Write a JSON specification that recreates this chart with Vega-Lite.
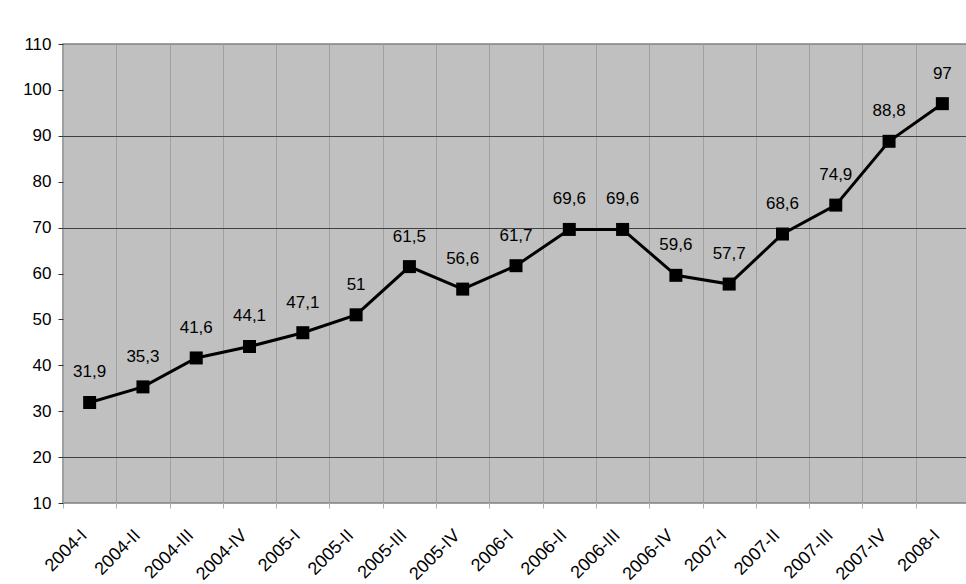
{
  "$schema": "https://vega.github.io/schema/vega-lite/v6.json",
  "width": 906,
  "height": 459,
  "autosize": {"type": "none"},
  "padding": {"left": 63, "top": 44, "right": 0, "bottom": 81},
  "background": "white",
  "config": {
    "font": "Liberation Sans",
    "locale": {"number": {"decimal": ",", "thousands": " ", "grouping": [3], "currency": ["", ""]}},
    "view": {"fill": "#c0c0c0", "stroke": "#808080", "strokeWidth": 1.5}
  },
  "data": {
    "values": [
      {"q": "2004-I", "v": 31.9},
      {"q": "2004-II", "v": 35.3},
      {"q": "2004-III", "v": 41.6},
      {"q": "2004-IV", "v": 44.1},
      {"q": "2005-I", "v": 47.1},
      {"q": "2005-II", "v": 51},
      {"q": "2005-III", "v": 61.5},
      {"q": "2005-IV", "v": 56.6},
      {"q": "2006-I", "v": 61.7},
      {"q": "2006-II", "v": 69.6},
      {"q": "2006-III", "v": 69.6},
      {"q": "2006-IV", "v": 59.6},
      {"q": "2007-I", "v": 57.7},
      {"q": "2007-II", "v": 68.6},
      {"q": "2007-III", "v": 74.9},
      {"q": "2007-IV", "v": 88.8},
      {"q": "2008-I", "v": 97}
    ]
  },
  "encoding": {
    "x": {
      "field": "q", "type": "nominal", "sort": null, "bandPosition": 0.5,
      "scale": {"type": "band", "paddingInner": 0, "paddingOuter": 0},
      "axis": {
        "title": null, "tickBand": "extent", "grid": true, "gridColor": "#a0a0a0", "gridWidth": 1,
        "domain": false, "tickColor": "#b0b0b0", "tickSize": 5,
        "labelAngle": -45, "labelAlign": "right", "labelBaseline": "top", "labelPadding": 18, "labelOffset": -12,
        "labelOverlap": false, "labelBound": false, "labelFlush": false,
        "labelFontSize": 18, "labelColor": "#000000", "labelFont": "Liberation Sans"
      }
    },
    "y": {
      "field": "v", "type": "quantitative",
      "scale": {"domain": [10, 110], "nice": false, "zero": false},
      "axis": {
        "title": null, "values": [10, 20, 30, 40, 50, 60, 70, 80, 90, 100, 110],
        "grid": true, "gridWidth": 1,
        "gridColor": {"condition": {"test": "datum.value == 20 || datum.value == 70 || datum.value == 90", "value": "#404040"}, "value": "transparent"},
        "domain": false, "tickColor": "#333333", "tickSize": 5, "labelPadding": 7,
        "labelOverlap": false, "labelFlush": false,
        "labelFontSize": 17, "labelColor": "#000000", "labelFont": "Liberation Sans"
      }
    }
  },
  "layer": [
    {
      "mark": {"type": "line", "color": "#000000", "strokeWidth": 3}
    },
    {
      "mark": {"type": "point", "shape": "square", "filled": true, "color": "#000000", "size": 169, "opacity": 1}
    },
    {
      "mark": {"type": "text", "dy": -30, "dx": 0, "fontSize": 17, "color": "#000000", "font": "Liberation Sans"},
      "encoding": {
        "text": {"field": "v", "type": "quantitative", "format": ".1~f"}
      }
    }
  ]
}
